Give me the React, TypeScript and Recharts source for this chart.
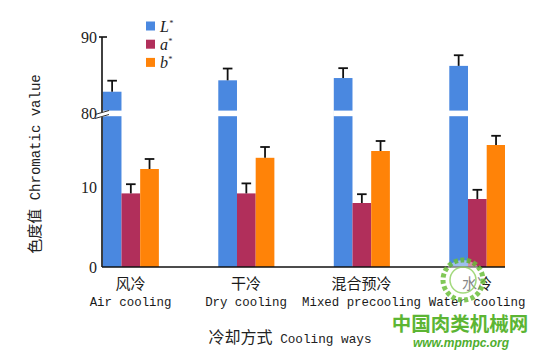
import React from 'react';
import { BarChart, Bar, XAxis, YAxis } from 'recharts';

// ---- data ----
const categoriesCn = ['风冷', '干冷', '混合预冷', '水冷'];
const categoriesEn = ['Air cooling', 'Dry cooling', 'Mixed precooling', 'Water cooling'];
const lValues = [82.8, 84.3, 84.6, 86.2];
const lErrors = [1.45, 1.55, 1.3, 1.4];
const aValues = [9.2, 9.2, 8.0, 8.5];
const aErrors = [1.15, 1.25, 1.1, 1.15];
const bValues = [12.25, 13.65, 14.5, 15.25];
const bErrors = [1.25, 1.35, 1.25, 1.15];
const yTickLabels = [0, 10, 80, 90];
const seriesNames = ['L', 'a', 'b'];
const seriesColors = ['#4a88e0', '#b12f5b', '#ff8308'];

// ---- broken axis mapping ----
const BREAK_LOW = 19.25;
const UPPER_FROM = 80;
const UPPER_SCALE = 0.95;
const toAxis = (v: number) => (v >= UPPER_FROM ? BREAK_LOW + (v - UPPER_FROM) * UPPER_SCALE : v);
const errToAxis = (v: number, e: number) => (v >= UPPER_FROM ? e * UPPER_SCALE : e);

const data = categoriesCn.map((c, i) => ({
  idx: i,
  cn: c,
  en: categoriesEn[i],
  L: toAxis(lValues[i]),
  Lerr: errToAxis(lValues[i], lErrors[i]),
  a: aValues[i],
  aerr: aErrors[i],
  b: bValues[i],
  berr: bErrors[i],
}));

const yTicks = yTickLabels.map(toAxis);

const makeShape = (key: string, errKey: string, withBreak: boolean) => (props: any) => {
  const { x, y, width, height, fill, payload } = props;
  const tv = payload[key];
  const ppu = tv ? height / tv : 0;
  const base = y + height;
  const errPx = payload[errKey] * ppu;
  const cx = x + width / 2;
  const top = y - errPx;
  return (
    <g>
      <rect x={x} y={y} width={width} height={height} fill={fill} />
      {withBreak && (
        <rect
          x={x - 0.5}
          y={base - (BREAK_LOW + 0.3) * ppu}
          width={width + 1}
          height={0.7 * ppu}
          fill="#ffffff"
        />
      )}
      <line x1={cx} y1={y} x2={cx} y2={top} stroke="#111" strokeWidth={1.8} />
      <line x1={cx - 4.8} y1={top} x2={cx + 4.8} y2={top} stroke="#111" strokeWidth={1.8} />
    </g>
  );
};

const XTick = (props: any) => {
  const { x, y, payload } = props;
  const i = payload.value;
  return (
    <g>
      <text x={x} y={y + 22} textAnchor="middle" fontSize={15} fill="#1a1a1a"
        fontFamily="'Noto Sans CJK SC', sans-serif">{categoriesCn[i]}</text>
      <text x={x} y={y + 39} textAnchor="middle" fontSize={12.4} fill="#1a1a1a"
        fontFamily="'Liberation Mono', monospace">{categoriesEn[i]}</text>
    </g>
  );
};

const YTick = (props: any) => {
  const { x, y, payload } = props;
  const idx = yTicks.findIndex((t) => Math.abs(t - payload.value) < 1e-6);
  const label = idx >= 0 ? String(yTickLabels[idx]) : '';
  const isBreak = idx === 2;
  const isTop = idx === 3;
  return (
    <g>
      {isBreak && (
        <g>
          <polygon points={`${x - 4},${y + 1} ${x + 4},${y - 2} ${x + 4},${y + 3} ${x - 4},${y + 5}`} fill="#fff" />
          <line x1={x - 7} y1={y + 1.5} x2={x + 7} y2={y - 2.5} stroke="#333" strokeWidth={1} />
          <line x1={x - 7} y1={y + 5.5} x2={x + 7} y2={y + 1.5} stroke="#333" strokeWidth={1} />
        </g>
      )}
      {isTop && <line x1={x - 3} y1={y} x2={x + 5} y2={y} stroke="#111" strokeWidth={1.6} />}
      <text x={x - 5} y={y + 5.5} textAnchor="end" fontSize={16} fill="#222"
        fontFamily="'Liberation Serif', serif">{label}</text>
    </g>
  );
};

export default function App() {
  const keys = ['L', 'a', 'b'];
  const errKeys = ['Lerr', 'aerr', 'berr'];
  return (
    <div style={{ position: 'absolute', left: 0, top: 0, width: 560, height: 358, background: '#fff' }}>
      <BarChart
        width={560}
        height={358}
        data={data}
        margin={{ top: 37, right: 55, bottom: 0, left: 0 }}
        barGap={0}
        barSize={18.7}
      >
        <XAxis
          dataKey="idx"
          type="number"
          domain={[-0.247, 3.242]}
          allowDataOverflow
          ticks={[0, 1, 2, 3]}
          interval={0}
          tick={<XTick />}
          tickLine={false}
          tickSize={0}
          tickMargin={0}
          height={91}
          axisLine={{ stroke: '#111', strokeWidth: 1.6 }}
        />
        <YAxis
          type="number"
          domain={[0, 28.75]}
          allowDataOverflow
          ticks={yTicks}
          interval={0}
          tick={<YTick />}
          tickLine={false}
          tickSize={0}
          tickMargin={0}
          width={102}
          axisLine={{ stroke: '#111', strokeWidth: 1.6 }}
        />
        {keys.map((k, i) => (
          <Bar
            key={k}
            dataKey={k}
            fill={seriesColors[i]}
            isAnimationActive={false}
            shape={makeShape(k, errKeys[i], k === 'L')}
          />
        ))}
      </BarChart>
      <svg width={560} height={358} style={{ position: 'absolute', left: 0, top: 0, pointerEvents: 'none' }}>
        {/* legend */}
        {seriesNames.map((n, i) => (
          <g key={n}>
            <rect x={146} y={21.5 + i * 18.2} width={9} height={9} fill={seriesColors[i]} />
            <text x={160} y={31.5 + i * 18.2} fontSize={16} fontStyle="italic" fill="#222"
              fontFamily="'Liberation Serif', serif">
              {n}
              <tspan dy={-6} fontSize={8}>*</tspan>
            </text>
          </g>
        ))}
        {/* y axis title */}
        <text transform="translate(40,164) rotate(-90)" textAnchor="middle" fill="#222" fontSize={15}>
          <tspan fontFamily="'Noto Sans CJK SC', sans-serif">色度值</tspan>
          <tspan fontFamily="'Liberation Mono', monospace" fontSize={14}> Chromatic value</tspan>
        </text>
        {/* x axis title */}
        <text x={290} y={343} textAnchor="middle" fill="#222">
          <tspan fontFamily="'Noto Sans CJK SC', sans-serif" fontSize={16}>冷却方式</tspan>
          <tspan fontFamily="'Liberation Mono', monospace" fontSize={12.7}> Cooling ways</tspan>
        </text>
        {/* watermark */}
        <circle cx={463} cy={280} r={20} fill="rgba(255,255,255,0.55)" stroke="#6cbf3c" strokeWidth={5}
          strokeDasharray="4 2.5" opacity={0.85} />
        <circle cx={463} cy={280} r={13} fill="none" stroke="#8ccf5c" strokeWidth={1.5} opacity={0.8} />
        <text x={460} y={331} textAnchor="middle" fontSize={19.5} fontWeight="bold" fill="#5cb534"
          fontFamily="'Noto Sans CJK SC', sans-serif">中国肉类机械网</text>
        <text x={461} y={347} textAnchor="middle" fontSize={12} fontWeight="bold" fontStyle="italic"
          fill="#4fae2e" fontFamily="'Liberation Sans', sans-serif">www.mpmpc.org</text>
      </svg>
    </div>
  );
}
